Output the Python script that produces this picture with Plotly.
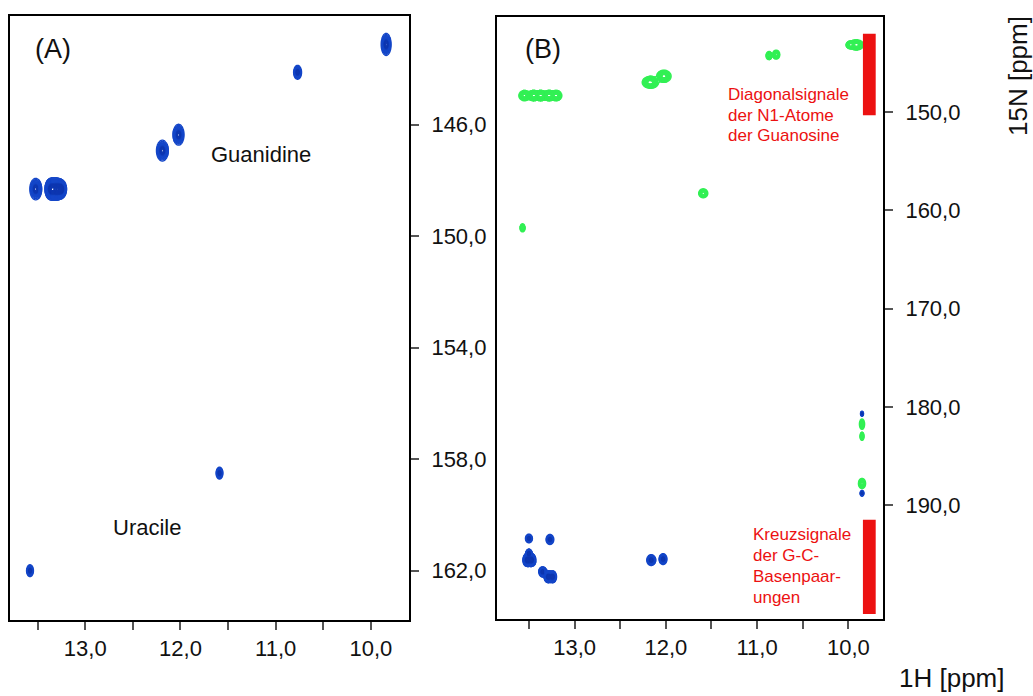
import numpy as np
import plotly.graph_objects as go

# ---------------- data ----------------
# Panel (A): 1H/15N peaks (blue)
a_h = [9.84, 10.77, 12.02, 12.19, 13.52, 13.36, 13.30, 13.25, 11.59, 13.58]
a_n = [143.12, 144.12, 146.36, 146.93, 148.31, 148.31, 148.31, 148.31, 158.5, 162.0]
a_sh = [0.0245, 0.0196, 0.027, 0.029, 0.029, 0.029, 0.029, 0.025, 0.017, 0.017]
a_sn = [0.185, 0.117, 0.175, 0.175, 0.18, 0.18, 0.18, 0.15, 0.10, 0.10]

# Panel (B): diagonal signals (green)
bg_h = [13.55, 13.45, 13.37, 13.28, 13.20, 12.17, 12.02, 10.87, 10.79, 9.98, 9.91,
        11.59, 13.57, 9.85, 9.85, 9.85]
bg_n = [148.3, 148.3, 148.3, 148.3, 148.3, 146.95, 146.33, 144.23, 144.13, 143.14, 143.14,
        158.25, 161.77, 181.75, 183.0, 187.8]
bg_sh = [0.028, 0.028, 0.028, 0.028, 0.028, 0.041, 0.036, 0.015, 0.018, 0.02, 0.036,
         0.023, 0.013, 0.013, 0.010, 0.018]
bg_sn = [0.24, 0.24, 0.24, 0.24, 0.24, 0.284, 0.284, 0.19, 0.21, 0.17, 0.24,
         0.21, 0.19, 0.24, 0.19, 0.24]

# Panel (B): cross signals (blue)
bb_h = [9.85, 9.85, 13.50, 13.27, 13.52, 13.47, 13.50, 13.35, 13.29, 13.24, 12.16, 12.03]
bb_n = [180.7, 188.8, 193.4, 193.5, 195.6, 195.6, 194.9, 196.8, 197.3, 197.3, 195.6, 195.5]
bb_sh = [0.008, 0.010, 0.018, 0.020, 0.022, 0.022, 0.015, 0.020, 0.020, 0.020, 0.023, 0.020]
bb_sn = [0.12, 0.14, 0.21, 0.24, 0.30, 0.30, 0.19, 0.24, 0.28, 0.28, 0.26, 0.26]

# axes ticks
a_xticks = [13.5, 13.0, 12.5, 12.0, 11.5, 11.0, 10.5, 10.0]
a_xtext = ["", "13,0", "", "12,0", "", "11,0", "", "10,0"]
a_yticks = [146, 150, 154, 158, 162]
b_yticks = [150, 160, 170, 180, 190]
tick_fmt = lambda v: f"{v:.1f}".replace(".", ",")

# marked 15N regions in (B)
diag_region = [142.0, 150.3]
cross_region = [191.5, 201.1]
region_1h = [9.84, 9.70]

diag_text = ["Diagonalsignale", "der N1-Atome", "der Guanosine"]
cross_text = ["Kreuzsignale", "der G-C-", "Basenpaar-", "ungen"]

BLUE = "#1446c8"
BLUE_DARK = "#0d36b0"
GREEN = "#33f055"
RED = "#ec1111"
FONT = "Liberation Sans, Arial, sans-serif"

fig = go.Figure()


def add_peaks(hs, ns, shs, sns, cscale, start, end, size, width, xa, ya):
    hs, ns, shs, sns = map(np.asarray, (hs, ns, shs, sns))
    for h, n, sh, sn in zip(hs, ns, shs, sns):
        gx = np.linspace(h - 4.5 * sh, h + 4.5 * sh, 70)
        gy = np.linspace(n - 4.5 * sn, n + 4.5 * sn, 70)
        X, Y = np.meshgrid(gx, gy)
        Z = np.zeros_like(X)
        for h2, n2, sh2, sn2 in zip(hs, ns, shs, sns):
            Z += np.exp(-0.5 * (((X - h2) / sh2) ** 2 + ((Y - n2) / sn2) ** 2))
        fig.add_trace(go.Contour(
            x=gx, y=gy, z=Z, xaxis=xa, yaxis=ya, zmin=0, zmax=1,
            contours=dict(coloring="lines", start=start, end=end, size=size),
            colorscale=cscale, showscale=False,
            line=dict(width=width), hoverinfo="skip",
        ))


blue_scale = [[0, BLUE], [0.5, BLUE], [0.75, BLUE_DARK], [1, BLUE_DARK]]
green_scale = [[0, GREEN], [1, GREEN]]
add_peaks(a_h, a_n, a_sh, a_sn, blue_scale, 0.1, 3.0, 0.06, 1.3, "x", "y")
add_peaks(bg_h, bg_n, bg_sh, bg_sn, green_scale, 0.1, 0.8, 0.07, 1.5, "x2", "y2")
add_peaks(bb_h, bb_n, bb_sh, bb_sn, blue_scale, 0.1, 3.0, 0.06, 1.3, "x2", "y2")

W, H = 1033, 696
px = lambda v: v / W
py = lambda v: 1 - v / H

axis_common = dict(showgrid=False, zeroline=False, showline=True, mirror=True,
                   linecolor="black", linewidth=2, ticks="outside", ticklen=8,
                   tickwidth=1.5, tickcolor="#555555",
                   tickfont=dict(family=FONT, size=22, color="#111111"))

fig.update_layout(
    width=W, height=H, margin=dict(l=0, r=0, t=0, b=0),
    paper_bgcolor="white", plot_bgcolor="white", showlegend=False,
    xaxis=dict(domain=[px(10), px(409)], range=[13.79, 9.60], anchor="y",
               tickvals=a_xticks, ticktext=a_xtext, **axis_common),
    yaxis=dict(domain=[py(620), py(16)], range=[163.77, 142.1], anchor="x", side="right",
               tickvals=a_yticks, ticktext=[tick_fmt(v) for v in a_yticks],
               ticklabelstandoff=8, **axis_common),
    xaxis2=dict(domain=[px(497), px(883)], range=[13.85, 9.62], anchor="y2",
                tickvals=a_xticks, ticktext=a_xtext, **axis_common),
    yaxis2=dict(domain=[py(619), py(17)], range=[201.6, 140.3], anchor="x2", side="right",
                tickvals=b_yticks, ticktext=[tick_fmt(v) for v in b_yticks],
                ticklabelstandoff=8, **axis_common),
)

# red region bars
for reg in (diag_region, cross_region):
    fig.add_shape(type="rect", xref="x2", yref="y2", x0=region_1h[0], x1=region_1h[1],
                  y0=reg[0], y1=reg[1], fillcolor=RED, line=dict(width=0), layer="above")

ann = []
ann.append(dict(text="(A)", x=px(53), y=py(49), font=dict(size=27)))
ann.append(dict(text="(B)", x=px(543), y=py(49), font=dict(size=27)))
ann.append(dict(text="Guanidine", x=px(261), y=py(155), font=dict(size=22)))
ann.append(dict(text="Uracile", x=px(147), y=py(527), font=dict(size=22)))
for i, t in enumerate(diag_text):
    ann.append(dict(text=t, x=px(726), y=py(95 + 20.3 * i), xanchor="left",
                    font=dict(size=17, color=RED)))
for i, t in enumerate(cross_text):
    ann.append(dict(text=t, x=px(751), y=py(534 + 21.2 * i), xanchor="left",
                    font=dict(size=17, color=RED)))
ann.append(dict(text="1H [ppm]", x=px(952), y=py(678), font=dict(size=26)))
ann.append(dict(text="15N [ppm]", x=px(1018), y=py(76), textangle=-90, font=dict(size=26)))

for a in ann:
    a.setdefault("xanchor", "center")
    a["yanchor"] = "middle"
    a["xref"] = "paper"
    a["yref"] = "paper"
    a["showarrow"] = False
    f = a["font"]
    f.setdefault("color", "#111111")
    f["family"] = FONT
    fig.add_annotation(**a)

fig.write_html("out.html", config={"displayModeBar": False},
               post_script="document.body.style.margin='0';document.body.style.padding='0';")
